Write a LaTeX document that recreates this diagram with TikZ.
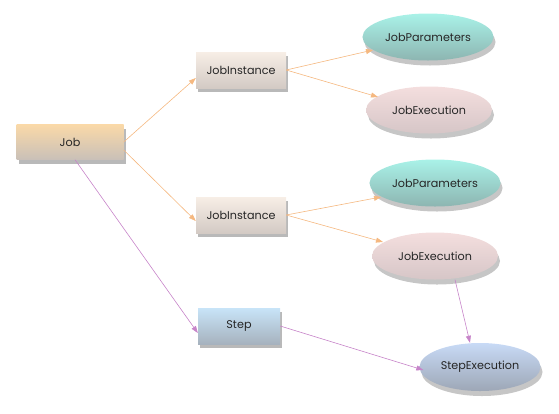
\documentclass[tikz,border=0pt]{standalone}
\usepackage{fontspec}
\setmainfont{Poppins}
\usepackage{tikz}
\usetikzlibrary{shapes.geometric,shadows,arrows.meta}

\definecolor{jobtop}{HTML}{FAD9A8}
\definecolor{jobbot}{HTML}{C9C0B8}
\definecolor{insttop}{HTML}{F7EEE6}
\definecolor{instbot}{HTML}{D3CAC4}
\definecolor{partop}{HTML}{A9F2E8}
\definecolor{parbot}{HTML}{8DB5B1}
\definecolor{exetop}{HTML}{F4DEDE}
\definecolor{exebot}{HTML}{D6C6C7}
\definecolor{steptop}{HTML}{C8E4F8}
\definecolor{stepbot}{HTML}{A6B2BE}
\definecolor{sexetop}{HTML}{C8DAF6}
\definecolor{sexebot}{HTML}{9DA7B6}
\definecolor{orangeline}{HTML}{F5B880}
\definecolor{violetline}{HTML}{C784C9}

\begin{document}
\begin{tikzpicture}[x=1pt,y=-1pt,
  font=\fontsize{11.2}{13}\selectfont,text=black!85,
  box/.style={rectangle,minimum width=90pt,minimum height=36pt,
    drop shadow={shadow xshift=2pt,shadow yshift=-4pt,opacity=0.55}},
  oval/.style={ellipse,minimum width=126pt,minimum height=47pt,
    drop shadow={shadow xshift=2pt,shadow yshift=-5pt,opacity=0.45}},
  orangearrow/.style={draw=orangeline,line width=0.6pt,-{Triangle[length=7pt,width=5pt]}},
  violetarrow/.style={draw=violetline,line width=0.6pt,-{Triangle[length=7pt,width=5pt]}}]
\useasboundingbox (0,0) rectangle (559,413);

%Flowchart: Process
\node[box,minimum width=107pt,minimum height=35pt,top color=jobtop,bottom color=jobbot] (job) at (70,142) {Job};
\node[box,top color=insttop,bottom color=instbot] (inst1) at (241,70) {JobInstance};
\node[box,top color=insttop,bottom color=instbot] (inst2) at (241,215) {JobInstance};
\node[box,minimum width=82pt,top color=steptop,bottom color=stepbot] (step) at (239,326) {Step};

%Ellipses
\node[oval,top color=partop,bottom color=parbot] (par1) at (428,37) {JobParameters};
\node[oval,top color=exetop,bottom color=exebot] (exe1) at (429,110) {JobExecution};
\node[oval,top color=partop,bottom color=parbot] (par2) at (435,183) {JobParameters};
\node[oval,top color=exetop,bottom color=exebot] (exe2) at (435,256) {JobExecution};
\node[oval,minimum width=121pt,minimum height=48pt,top color=sexetop,bottom color=sexebot] (sexe) at (480,367) {StepExecution};

%Arrows
\draw[orangearrow] (job.east) -- ([yshift=-8pt]inst1.west);
\draw[orangearrow] ([yshift=-8pt]job.east) -- ([yshift=-6pt]inst2.west);
\draw[violetarrow] ([xshift=5pt]job.south) -- ([yshift=-7pt]step.west);
\draw[orangearrow] (inst1.east) -- ([shift={(-55,13)}]par1.center);
\draw[orangearrow] (inst1.east) -- ([shift={(-51,-13)}]exe1.center);
\draw[orangearrow] (inst2.east) -- ([shift={(-54,14)}]par2.center);
\draw[orangearrow] (inst2.east) -- ([shift={(-52,-14)}]exe2.center);
\draw[violetarrow] (step.east) -- ([xshift=4pt,yshift=-3pt]sexe.west);
\draw[violetarrow] ([xshift=20pt]exe2.south) -- ([xshift=-10pt]sexe.north);
\end{tikzpicture}
\end{document}
